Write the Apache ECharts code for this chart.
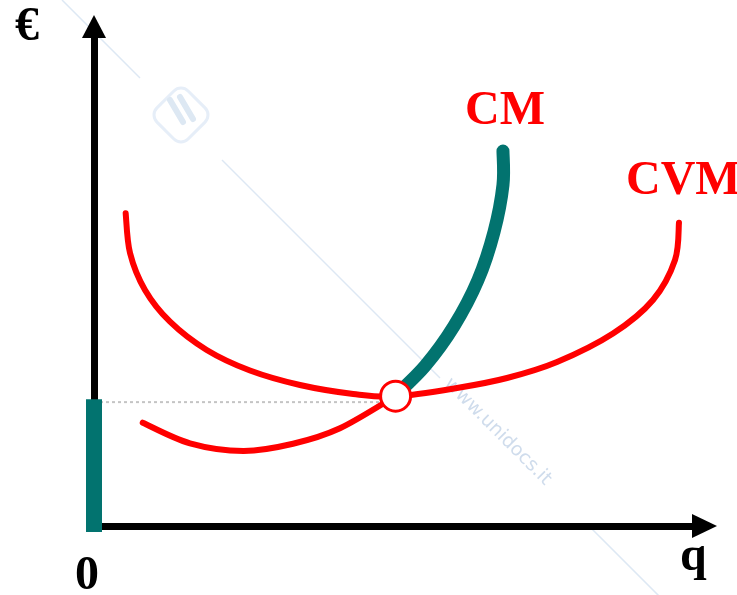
<!DOCTYPE html>
<html>
<head>
<meta charset="utf-8">
<script src="https://cdn.jsdelivr.net/npm/echarts@6/dist/echarts.min.js"></script>
<style>
html,body{margin:0;padding:0;background:#fff;}
#chart{width:737px;height:595px;}
</style>
</head>
<body>
<div id="chart"></div>
<script>
// ---- data (q on x, € on y; arbitrary units 0..100) ----
const cvmPoints = [
  [5.19,62.60],[5.90,54.65],[8.35,47.25],[12.45,40.90],[18.46,35.24],[25.55,31.13],
  [33.74,28.23],[42.47,26.43],[49.30,25.93],[59.46,27.63],[67.65,29.63],[75.84,32.83],
  [85.01,38.54],[91.56,45.25],[95.17,53.25],[95.82,60.72]
];
const cmLowerPoints = [
  [7.98,20.68],[15.72,16.56],[24.46,15.02],[32.60,16.46],[40.29,19.56],[49.30,25.93]
];
const cmUpperPoints = [
  [49.30,26.03],[54.22,32.03],[58.97,40.04],[62.90,49.25],[65.52,58.86],[66.99,68.27],[66.99,75.08]
];
const equilibrium = [49.4, 26.0];
const priceLevel = 24.8;
const priceBar = [[0, -1.2], [0, 25.4]];
const curveLabels = ['CM', 'CVM'];
const axisLabels = ['€', '0', 'q'];
const watermarkText = 'www.unidocs.it';

const RED = '#ff0000';
const TEAL = '#02736f';
const SERIF = '"Liberation Serif", "Times New Roman", serif';

const chart = echarts.init(document.getElementById('chart'), null, {renderer: 'canvas'});

// smooth curve through data points (Catmull-Rom), positioned via the axes' scales
function curveSeries(name, pts, color, width, z) {
  return {
    type: 'custom', name: name, data: pts, z: z, clip: false, silent: true,
    renderItem: function (params, api) {
      if (params.dataIndex !== 0) return null;
      const p = pts.map(function (d) { return api.coord(d); });
      let d = 'M' + p[0][0].toFixed(2) + ' ' + p[0][1].toFixed(2);
      for (let i = 0; i < p.length - 1; i++) {
        const p0 = p[Math.max(i - 1, 0)], p1 = p[i], p2 = p[i + 1], p3 = p[Math.min(i + 2, p.length - 1)];
        const c1x = p1[0] + (p2[0] - p0[0]) / 6, c1y = p1[1] + (p2[1] - p0[1]) / 6;
        const c2x = p2[0] - (p3[0] - p1[0]) / 6, c2y = p2[1] - (p3[1] - p1[1]) / 6;
        d += ' C' + c1x.toFixed(2) + ' ' + c1y.toFixed(2) + ' ' + c2x.toFixed(2) + ' ' + c2y.toFixed(2) +
             ' ' + p2[0].toFixed(2) + ' ' + p2[1].toFixed(2);
      }
      return {
        type: 'path', shape: {pathData: d},
        style: {fill: 'none', stroke: color, lineWidth: width, lineCap: 'round', lineJoin: 'round'}
      };
    }
  };
}

const wmColor = '#dde8f4';
const option = {
  animation: false,
  backgroundColor: '#ffffff',
  grid: {left: 94, right: 32.5, top: 26.5, bottom: 69},
  xAxis: {
    type: 'value', min: 0, max: 100,
    axisLine: {show: true, onZero: true, symbol: ['none', 'triangle'], symbolSize: [24, 25],
      lineStyle: {color: '#000', width: 7}},
    axisTick: {show: false}, axisLabel: {show: false}, splitLine: {show: false}
  },
  yAxis: {
    type: 'value', min: 0, max: 100,
    axisLine: {show: true, onZero: true, symbol: ['none', 'triangle'], symbolSize: [24, 23],
      lineStyle: {color: '#000', width: 7}},
    axisTick: {show: false}, axisLabel: {show: false}, splitLine: {show: false}
  },
  graphic: [
    // watermark (decoration)
    {type: 'line', z: -10, shape: {x1: 62, y1: 0, x2: 140, y2: 78}, style: {stroke: wmColor, lineWidth: 1.5}},
    {type: 'line', z: -10, shape: {x1: 222, y1: 160, x2: 440, y2: 378}, style: {stroke: wmColor, lineWidth: 1.5}},
    {type: 'line', z: -10, shape: {x1: 590, y1: 527, x2: 660, y2: 597}, style: {stroke: wmColor, lineWidth: 1.5}},
    {type: 'rect', z: -10, x: 181, y: 115, rotation: Math.PI / 4,
      shape: {x: -22, y: -22, width: 44, height: 44, r: 10},
      style: {fill: 'none', stroke: '#e6eef8', lineWidth: 3}},
    {type: 'line', z: -10, shape: {x1: 170, y1: 100, x2: 183, y2: 122}, style: {stroke: '#dde8f3', lineWidth: 6, lineCap: 'round'}},
    {type: 'line', z: -10, shape: {x1: 180, y1: 97, x2: 193, y2: 119}, style: {stroke: '#dde8f3', lineWidth: 6, lineCap: 'round'}},
    {type: 'text', z: -10, x: 447, y: 381, rotation: -Math.PI / 4,
      style: {text: watermarkText, fill: '#cfdcec', font: '19px "DejaVu Sans", sans-serif',
        align: 'left', verticalAlign: 'middle'}},
    // text labels
    {type: 'text', z: 100, x: 15, y: 28,
      style: {text: axisLabels[0], fill: '#000', font: 'bold 48px ' + SERIF, align: 'left', verticalAlign: 'middle'}},
    {type: 'text', z: 100, x: 75, y: 577,
      style: {text: axisLabels[1], fill: '#000', font: 'bold 48px ' + SERIF, align: 'left', verticalAlign: 'middle'}},
    {type: 'text', z: 100, x: 680, y: 558,
      style: {text: axisLabels[2], fill: '#000', font: 'bold 48px ' + SERIF, align: 'left', verticalAlign: 'middle'}},
    {type: 'text', z: 100, x: 465, y: 112,
      style: {text: curveLabels[0], fill: RED, font: 'bold 48px ' + SERIF, align: 'left', verticalAlign: 'middle'}},
    {type: 'text', z: 100, x: 626, y: 182,
      style: {text: curveLabels[1], fill: RED, font: 'bold 48px ' + SERIF, align: 'left', verticalAlign: 'middle'}}
  ],
  series: [
    {
      type: 'line', name: 'price', data: [[0, priceLevel], [equilibrium[0] - 1, priceLevel]],
      showSymbol: false, symbol: 'none', clip: false, z: 1,
      lineStyle: {color: '#c4c4c4', width: 2, type: [3, 3]}
    },
    curveSeries('CVM', cvmPoints, RED, 6, 3),
    curveSeries('CM low', cmLowerPoints, RED, 6, 3),
    curveSeries('CM', cmUpperPoints, TEAL, 13, 4),
    {
      type: 'line', name: 'bar', data: priceBar, showSymbol: false, symbol: 'none', clip: false, z: 6,
      lineStyle: {color: TEAL, width: 16, cap: 'butt'}
    },
    {
      type: 'scatter', name: 'eq', data: [equilibrium], symbol: 'circle', symbolSize: 30, z: 8,
      itemStyle: {color: '#ffffff', borderColor: RED, borderWidth: 3, opacity: 1}
    }
  ]
};
chart.setOption(option);
</script>
</body>
</html>
